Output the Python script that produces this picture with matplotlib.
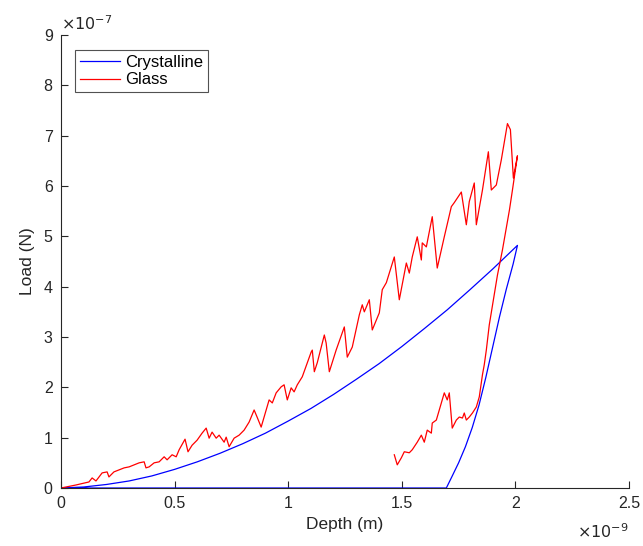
import matplotlib
matplotlib.use("Agg")
import matplotlib.pyplot as plt
from matplotlib.ticker import FuncFormatter
import numpy as np

plt.rcParams['font.family'] = ['Liberation Sans', 'DejaVu Sans']

# Depth in units of 1e-9 m, load in units of 1e-7 N
cryst_x = [0, 0.1, 0.2, 0.3, 0.4, 0.5, 0.6, 0.7, 0.8, 0.9, 1.0, 1.1, 1.2, 1.3, 1.4,
           1.5, 1.6, 1.7, 1.8, 1.9, 2.009,
           1.99, 1.96, 1.93, 1.90, 1.87, 1.84, 1.81, 1.78, 1.75, 1.72, 1.696, 0]
cryst_y = [0, 0.02, 0.07, 0.14, 0.24, 0.37, 0.52, 0.69, 0.88, 1.09, 1.33, 1.58, 1.86, 2.16, 2.47,
           2.81, 3.17, 3.54, 3.94, 4.35, 4.82,
           4.45, 3.95, 3.40, 2.80, 2.20, 1.65, 1.20, 0.82, 0.50, 0.22, 0, 0]

glass_x = [0, 0.066, 0.123, 0.137, 0.154, 0.181, 0.203, 0.211, 0.233, 0.256, 0.278, 0.300,
           0.322, 0.344, 0.366, 0.374, 0.388, 0.410, 0.432, 0.454, 0.467, 0.489, 0.507,
           0.520, 0.546, 0.559, 0.577, 0.599, 0.621, 0.639, 0.652, 0.665, 0.683, 0.696,
           0.718, 0.727, 0.740, 0.762, 0.784, 0.806, 0.828, 0.850, 0.863, 0.881, 0.894,
           0.916, 0.930, 0.947, 0.969, 0.982, 0.996, 1.013, 1.026, 1.040, 1.062, 1.101,
           1.106, 1.115, 1.128, 1.159, 1.167, 1.181, 1.211, 1.247, 1.260, 1.282, 1.313,
           1.326, 1.335, 1.357, 1.370, 1.401, 1.414, 1.432, 1.467, 1.489, 1.520, 1.533,
           1.546, 1.568, 1.586, 1.590, 1.608, 1.634, 1.656, 1.687, 1.718, 1.731, 1.762,
           1.784, 1.797, 1.819, 1.828, 1.855, 1.881, 1.894, 1.916, 1.938, 1.965, 1.978,
           1.991, 2.009,
           2.000, 1.987, 1.974, 1.960, 1.943, 1.921, 1.903, 1.885, 1.872, 1.863, 1.855,
           1.841, 1.828, 1.811, 1.797, 1.784, 1.775, 1.767, 1.753, 1.740, 1.722, 1.709,
           1.700, 1.687, 1.665, 1.652, 1.634, 1.630, 1.612, 1.599, 1.586, 1.568, 1.546,
           1.533, 1.511, 1.498, 1.480, 1.467]
glass_y = [0, 0.06, 0.12, 0.20, 0.14, 0.30, 0.32, 0.22, 0.32, 0.36, 0.40, 0.42,
           0.46, 0.50, 0.52, 0.40, 0.42, 0.50, 0.52, 0.62, 0.56, 0.66, 0.62,
           0.76, 0.97, 0.72, 0.85, 0.95, 1.09, 1.19, 0.99, 1.11, 0.99, 1.05,
           0.91, 1.01, 0.82, 0.99, 1.05, 1.15, 1.31, 1.55, 1.41, 1.21, 1.41,
           1.75, 1.69, 1.89, 2.01, 2.05, 1.75, 1.99, 1.91, 2.05, 2.21, 2.70,
           2.74, 2.31, 2.49, 3.04, 2.88, 2.31, 2.74, 3.20, 2.60, 2.80, 3.44,
           3.64, 3.50, 3.74, 3.14, 3.48, 3.94, 4.08, 4.59, 3.74, 4.47, 4.27,
           4.59, 4.99, 4.53, 4.87, 4.79, 5.39, 4.37, 4.99, 5.59, 5.67, 5.88,
           5.23, 5.69, 6.06, 5.23, 5.92, 6.68, 5.92, 6.02, 6.52, 7.24, 7.12,
           6.16, 6.60,
           6.32, 5.92, 5.53, 5.17, 4.73, 4.23, 3.74, 3.24, 2.74, 2.45, 2.25,
           1.81, 1.61, 1.49, 1.41, 1.35, 1.49, 1.39, 1.41, 1.35, 1.19, 1.89,
           1.75, 1.89, 1.55, 1.35, 1.29, 1.09, 1.15, 0.91, 1.05, 0.91, 0.76,
           0.70, 0.72, 0.60, 0.46, 0.66]

x_ticks = [0, 0.5, 1, 1.5, 2, 2.5]
y_ticks = [0, 1, 2, 3, 4, 5, 6, 7, 8, 9]
x_scale = 1e-9
y_scale = 1e-7

fig = plt.figure(figsize=(6.43, 5.46), dpi=100)
ax = fig.add_axes([61/643, 1 - 488/546, (629 - 61)/643, (488 - 35)/546])

ax.plot(np.array(cryst_x) * x_scale, np.array(cryst_y) * y_scale, color='#0000ff', lw=0.9,
        label='Crystalline')
ax.plot(np.array(glass_x) * x_scale, np.array(glass_y) * y_scale, color='#ff0000', lw=0.9,
        label='Glass')

ax.set_xlim(0, 2.5e-9)
ax.set_ylim(0, 9e-7)
ax.set_xticks([t * x_scale for t in x_ticks])
ax.set_yticks([t * y_scale for t in y_ticks])
ax.xaxis.set_major_formatter(FuncFormatter(lambda v, p: f"{v / x_scale:g}"))
ax.yaxis.set_major_formatter(FuncFormatter(lambda v, p: f"{v / y_scale:g}"))
ax.tick_params(direction='in', length=5, width=0.8, labelsize=11.5, colors='#262626',
               labelcolor='#262626', pad=6)
for s in ['top', 'right']:
    ax.spines[s].set_visible(False)
for s in ['left', 'bottom']:
    ax.spines[s].set_color('#262626')
    ax.spines[s].set_linewidth(0.8)

ax.set_xlabel('Depth (m)', fontsize=12.5, color='#262626', labelpad=4)
ax.set_ylabel('Load (N)', fontsize=12.5, color='#262626', labelpad=6)

ax.text(0.0, 1.005, r'$\times10^{-7}$', transform=ax.transAxes, fontsize=11.5,
        color='#262626', ha='left', va='bottom')
ax.text(1.0, -0.075, r'$\times10^{-9}$', transform=ax.transAxes, fontsize=11.5,
        color='#262626', ha='right', va='top')

leg = ax.legend(loc='upper left', bbox_to_anchor=(0.025, 0.967), fontsize=12,
                frameon=True, fancybox=False, handlelength=2.4, handletextpad=0.3,
                borderpad=0.3, labelspacing=0.15, borderaxespad=0)
leg.get_frame().set_edgecolor('#262626')
leg.get_frame().set_linewidth(0.8)

fig.savefig('out.png', dpi=100)
